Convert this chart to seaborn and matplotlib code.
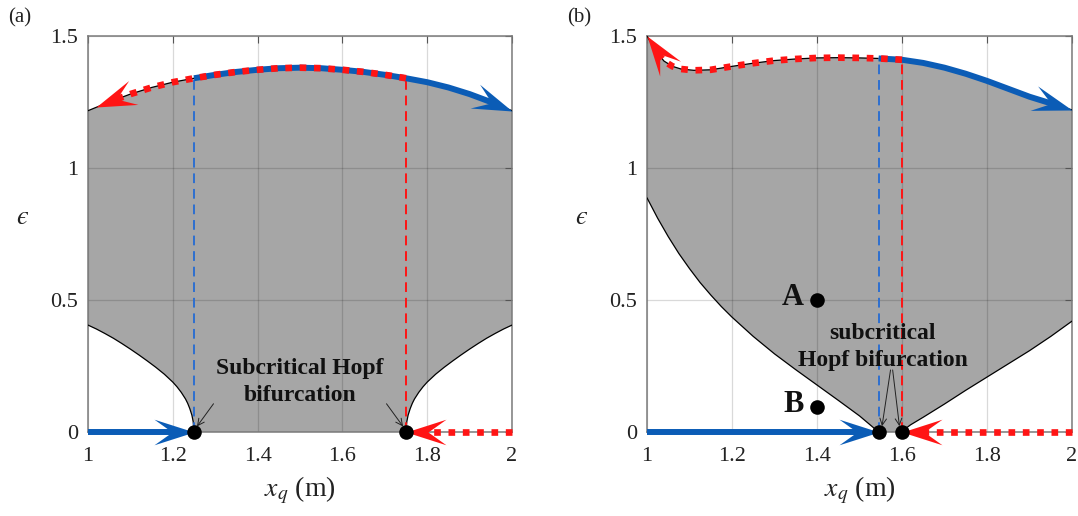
import numpy as np
import pandas as pd
import matplotlib
matplotlib.use("Agg")
import matplotlib.pyplot as plt
from matplotlib.markers import MarkerStyle
from matplotlib.path import Path
from matplotlib.transforms import Affine2D
import seaborn as sns

# ---------------- data ----------------
# panel (a)
xa_up = [1.00, 1.05, 1.10, 1.15, 1.20, 1.25, 1.30, 1.35, 1.40, 1.45, 1.50,
         1.55, 1.60, 1.65, 1.70, 1.75, 1.80, 1.85, 1.90, 1.95, 2.00]
ya_up = [1.217, 1.25, 1.28, 1.305, 1.325, 1.340, 1.353, 1.364, 1.372, 1.378, 1.380,
         1.378, 1.372, 1.364, 1.353, 1.340, 1.325, 1.305, 1.28, 1.25, 1.217]
xa_lo = [1.00, 1.02, 1.04, 1.06, 1.08, 1.10, 1.12, 1.14, 1.16, 1.18, 1.20, 1.21,
         1.22, 1.23, 1.235, 1.24, 1.245, 1.248, 1.25,
         1.75, 1.752, 1.755, 1.76, 1.765, 1.77, 1.78, 1.79, 1.80, 1.82, 1.84, 1.86,
         1.88, 1.90, 1.92, 1.94, 1.96, 1.98, 2.00]
ya_lo = [0.405, 0.390, 0.373, 0.355, 0.335, 0.314, 0.292, 0.269, 0.245, 0.219, 0.189, 0.171,
         0.150, 0.125, 0.109, 0.089, 0.064, 0.040, 0.0,
         0.0, 0.040, 0.064, 0.089, 0.109, 0.125, 0.150, 0.171, 0.189, 0.219, 0.245, 0.269,
         0.292, 0.314, 0.335, 0.355, 0.373, 0.390, 0.405]
hopf_a = [1.25, 1.75]

# panel (b)
xb_up = [1.00, 1.02, 1.04, 1.06, 1.08, 1.11, 1.15, 1.20, 1.25, 1.30, 1.35, 1.40,
         1.45, 1.50, 1.545, 1.60, 1.65, 1.70, 1.75, 1.80, 1.85, 1.90, 1.95, 2.00]
yb_up = [1.50, 1.445, 1.405, 1.385, 1.375, 1.37, 1.372, 1.385, 1.397, 1.407, 1.413, 1.417,
         1.418, 1.417, 1.415, 1.41, 1.398, 1.38, 1.357, 1.33, 1.30, 1.27, 1.245, 1.22]
xb_lo = [1.00, 1.025, 1.05, 1.075, 1.10, 1.125, 1.15, 1.175, 1.20, 1.25, 1.30, 1.35,
         1.40, 1.45, 1.50, 1.545,
         1.60, 1.61, 1.62, 1.65, 1.70, 1.75, 1.80, 1.85, 1.90, 1.95, 2.00]
yb_lo = [0.887, 0.810, 0.740, 0.676, 0.619, 0.566, 0.519, 0.475, 0.435, 0.362, 0.296, 0.236,
         0.178, 0.120, 0.061, 0.0,
         0.0, 0.015, 0.027, 0.056, 0.106, 0.158, 0.208, 0.258, 0.308, 0.362, 0.420]
hopf_b = [1.545, 1.60]
pts_AB_x = [1.4, 1.4]
pts_AB_y = [0.5, 0.095]
pts_AB_lbl = ["A", "B"]

xticks = [1, 1.2, 1.4, 1.6, 1.8, 2]
xticklabels = ["1", "1.2", "1.4", "1.6", "1.8", "2"]
yticks = [0, 0.5, 1, 1.5]
yticklabels = ["0", "0.5", "1", "1.5"]

# ---------------- style ----------------
sns.set_theme(style="white")
plt.rcParams["font.family"] = ["Liberation Serif", "DejaVu Serif"]
plt.rcParams["mathtext.fontset"] = "stix"

BLUE = "#0B5CB6"
RED = "#FF1414"
DBLUE = "#2D6FD0"
GRAY = "#A6A6A6"

fig = plt.figure(figsize=(10.78, 5.16), dpi=100)
ax_a = fig.add_axes([88 / 1078, 84 / 516, 424 / 1078, 396 / 516])
ax_b = fig.add_axes([647 / 1078, 84 / 516, 425 / 1078, 396 / 516])

HEAD = Path([(0, 0), (-1, 0.32), (-0.55, 0), (-1, -0.32), (0, 0)],
            [Path.MOVETO, Path.LINETO, Path.LINETO, Path.LINETO, Path.CLOSEPOLY])
HEAD_LEN_PX = 40


def arrow_line(ax, xs, ys, color, dotted=False, z=4):
    """Draw a thick line along (xs, ys) ending in a notched arrowhead at the last point."""
    xs = np.asarray(xs, float)
    ys = np.asarray(ys, float)
    pts = ax.transData.transform(np.column_stack([xs, ys]))
    seg = np.hypot(np.diff(pts[:, 0]), np.diff(pts[:, 1]))
    from_end = np.r_[np.cumsum(seg[::-1])[::-1], 0.0]

    def point_at(d):
        i = np.where(from_end >= d)[0]
        i = i[-1] if len(i) else 0
        if i >= len(seg):
            return pts[-1], len(pts) - 1
        t = (from_end[i] - d) / seg[i] if seg[i] > 0 else 0
        return pts[i] + t * (pts[i + 1] - pts[i]), i

    p_trim, i_trim = point_at(HEAD_LEN_PX * 0.45)
    line_pts = np.vstack([pts[: i_trim + 1], p_trim])
    line_data = ax.transData.inverted().transform(line_pts)
    df = pd.DataFrame({"x": line_data[:, 0], "y": line_data[:, 1]})
    if dotted:
        sns.lineplot(data=df, x="x", y="y", ax=ax, sort=False, color=color,
                     lw=4.8, linestyle=(0, (1, 1.15)), dash_capstyle="butt", zorder=z,
                     clip_on=False)
    else:
        sns.lineplot(data=df, x="x", y="y", ax=ax, sort=False, color=color,
                     lw=4.3, solid_capstyle="butt", zorder=z, clip_on=False)
    p_dir, _ = point_at(HEAD_LEN_PX * 0.8)
    ang = np.degrees(np.arctan2(pts[-1, 1] - p_dir[1], pts[-1, 0] - p_dir[0]))
    m = MarkerStyle(HEAD, transform=Affine2D().rotate_deg(ang))
    ax.plot([xs[-1]], [ys[-1]], marker=m, markersize=HEAD_LEN_PX * 2 * 0.72,
            color=color, markeredgewidth=0, zorder=z + 0.5, linestyle="none",
            clip_on=False)


def style_axes(ax):
    ax.set_xlim(1, 2)
    ax.set_ylim(0, 1.5)
    ax.set_xticks(xticks)
    ax.set_xticklabels(xticklabels)
    ax.set_yticks(yticks)
    ax.set_yticklabels(yticklabels)
    ax.set_axisbelow(False)
    ax.grid(True, color="black", alpha=0.15, lw=0.9)
    for s in ax.spines.values():
        s.set_color("#7a7a7a")
        s.set_linewidth(1.1)
        s.set_zorder(2.6)
    ax.tick_params(axis="both", which="both", direction="in", length=5, width=0.8,
                   color="#555555", labelsize=16, top=True, right=True,
                   labelcolor="#222222")
    ax.tick_params(axis="x", pad=11)
    ax.tick_params(axis="y", pad=7)
    ax.set_xlabel(r"$x_q$ (m)", fontsize=20, color="#222222")
    ax.set_ylabel("$\u03f5$", fontsize=19, rotation=0, color="#222222")
    ax.xaxis.label.set_va("center")
    ax.yaxis.label.set_va("center")
    ax.xaxis.set_label_coords(0.5, -0.148)
    ax.yaxis.set_label_coords(-0.155, 0.54)


for ax in (ax_a, ax_b):
    style_axes(ax)


def draw_panel(ax, xu, yu, xl, yl, hopf, red_tip_x, text, text_xy, arrows):
    xu = np.asarray(xu); yu = np.asarray(yu)
    xl = np.asarray(xl); yl = np.asarray(yl)
    # shaded region
    ax.fill(np.r_[xu, xl[::-1]], np.r_[yu, yl[::-1]], color=GRAY, lw=0, zorder=1)
    # boundaries
    sns.lineplot(x=xu, y=yu, ax=ax, sort=False, color="black", lw=0.9, zorder=3)
    left = xl <= hopf[0]
    right = xl >= hopf[1]
    sns.lineplot(x=xl[left], y=yl[left], ax=ax, sort=False, color="black", lw=0.9, zorder=3)
    sns.lineplot(x=xl[right], y=yl[right], ax=ax, sort=False, color="black", lw=0.9, zorder=3)
    # dashed verticals
    y_h0 = np.interp(hopf[0], xu, yu)
    y_h1 = np.interp(hopf[1], xu, yu)
    ax.plot([hopf[0], hopf[0]], [0, y_h0], color=DBLUE, lw=1.4, ls=(0, (5, 3)), zorder=3.5)
    ax.plot([hopf[1], hopf[1]], [0, y_h1], color=RED, lw=1.4, ls=(0, (5, 3)), zorder=3.5)
    # thick lines with arrows
    arrow_line(ax, [1.0, hopf[0]], [0, 0], BLUE, z=5)
    m = xu > hopf[0]
    arrow_line(ax, np.r_[hopf[0], xu[m]], np.r_[y_h0, yu[m]], BLUE, z=5)
    arrow_line(ax, [2.0, hopf[1]], [0, 0], RED, dotted=True, z=6)
    sel = (xu < hopf[1]) & (xu > red_tip_x)
    rx = np.r_[hopf[1], xu[sel][::-1], red_tip_x]
    ry = np.r_[y_h1, yu[sel][::-1], np.interp(red_tip_x, xu, yu)]
    arrow_line(ax, rx, ry, RED, dotted=True, z=6)
    # hopf points
    sns.scatterplot(x=hopf, y=[0, 0], ax=ax, color="black", s=110, linewidth=0,
                    zorder=8, clip_on=False)
    ax.text(text_xy[0], text_xy[1], text, ha="center", va="center", fontsize=17,
            fontweight="bold", color="#111111", zorder=9, linespacing=1.35)
    for (x0, y0, x1, y1) in arrows:
        ax.annotate("", xy=(x1, y1), xytext=(x0, y0),
                    arrowprops=dict(arrowstyle="->", color="#222222", lw=0.7,
                                    mutation_scale=12, shrinkA=0, shrinkB=0),
                    zorder=9)


draw_panel(ax_a, xa_up, ya_up, xa_lo, ya_lo, hopf_a, 1.02,
           "Subcritical Hopf\nbifurcation", (1.5, 0.19),
           [(1.296, 0.107, 1.257, 0.021), (1.704, 0.107, 1.743, 0.021)])
draw_panel(ax_b, xb_up, yb_up, xb_lo, yb_lo, hopf_b, 1.0,
           "subcritical\nHopf bifurcation", (1.555, 0.322),
           [(1.573, 0.235, 1.553, 0.022), (1.578, 0.235, 1.594, 0.022)])

sns.scatterplot(x=pts_AB_x, y=pts_AB_y, ax=ax_b, color="black", s=110, linewidth=0, zorder=8)
for x, y, lbl in zip(pts_AB_x, pts_AB_y, pts_AB_lbl):
    ax_b.text(x - 0.03, y - 0.02, lbl, ha="right", va="baseline", fontsize=22,
              fontweight="bold", color="#111111", zorder=9)

for ax in (ax_a, ax_b):
    ax.set_xlim(1, 2)
    ax.set_ylim(0, 1.5)
    if ax.get_legend() is not None:
        ax.get_legend().remove()

fig.text(8 / 1078, 1 - 18 / 516, "(a)", fontsize=15, va="center", ha="left", color="#222222")
fig.text(567 / 1078, 1 - 18 / 516, "(b)", fontsize=15, va="center", ha="left", color="#222222")

fig.savefig("out.png", dpi=100)
